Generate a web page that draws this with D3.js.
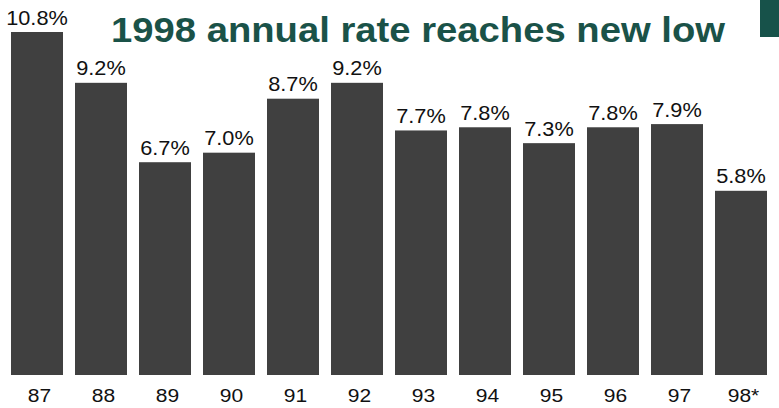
<!DOCTYPE html>
<html><head><meta charset="utf-8">
<script src="https://cdn.jsdelivr.net/npm/d3@7"></script>
<style>html,body{margin:0;padding:0;background:#fff;}svg{display:block;}</style>
</head><body>
<script>
const years = ["87","88","89","90","91","92","93","94","95","96","97","98*"];
const rates = [10.8, 9.2, 6.7, 7.0, 8.7, 9.2, 7.7, 7.8, 7.3, 7.8, 7.9, 5.8];
const rateLabels = ["10.8%","9.2%","6.7%","7.0%","8.7%","9.2%","7.7%","7.8%","7.3%","7.8%","7.9%","5.8%"];
const title = "1998 annual rate reaches new low";

const W = 779, H = 408;
const FONT = "Liberation Sans, Arial, sans-serif";
const svg = d3.select("body").append("svg").attr("width", W).attr("height", H);

const x = d3.scaleBand().domain(years).range([5, 773]).paddingInner(12/64).paddingOuter(6/64);
const y = d3.scaleLinear().domain([0, 10.8]).range([375, 32]);

svg.append("rect").attr("x", 760).attr("y", 0).attr("width", 19).attr("height", 37).attr("fill", "#17524a");

svg.append("text").attr("x", 111).attr("y", 42)
  .attr("font-family", FONT).attr("font-weight", "bold")
  .attr("font-size", 35).attr("fill", "#1a5248")
  .attr("textLength", 614).attr("lengthAdjust", "spacingAndGlyphs")
  .text(title);

svg.selectAll("rect.bar").data(rates).enter().append("rect").attr("class","bar")
  .attr("x", (d,i) => x(years[i])).attr("width", x.bandwidth())
  .attr("y", d => y(d)).attr("height", d => y(0) - y(d)).attr("fill", "#404040");

function stretch(sel, k) {
  sel.each(function() {
    const L = this.getComputedTextLength();
    d3.select(this).attr("textLength", L * k).attr("lengthAdjust", "spacingAndGlyphs");
  });
}

svg.selectAll("text.val").data(rates).enter().append("text").attr("class","val")
  .attr("x", (d,i) => x(years[i]) + x.bandwidth()/2).attr("y", d => y(d) - 7.5)
  .attr("text-anchor", "middle").attr("font-family", FONT)
  .attr("font-size", 20.5).attr("fill", "#111").text((d,i) => rateLabels[i])
  .call(stretch, 1.06);

const axis = d3.axisBottom(x).tickSize(0).tickPadding(0);
const g = svg.append("g").attr("transform", "translate(2.5,390)").call(axis);
g.select(".domain").remove();
g.selectAll("text").attr("font-family", FONT).attr("font-size", 17.5)
  .attr("fill", "#111").attr("dy", "0.71em").call(stretch, 1.2);
</script>
</body></html>
